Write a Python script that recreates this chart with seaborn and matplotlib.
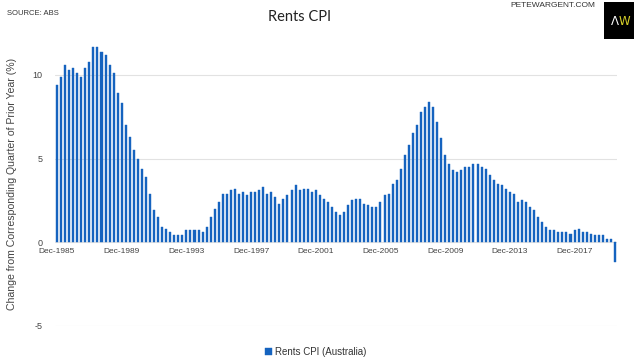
import matplotlib
matplotlib.use("Agg")
import matplotlib.pyplot as plt
import seaborn as sns
import pandas as pd

# Annual % change in Rents CPI (Australia), quarterly from Dec-1985
values = [
    9.4, 9.9, 10.6, 10.3, 10.4, 10.1, 9.9, 10.4, 10.8, 11.7,
    11.7, 11.4, 11.2, 10.6, 10.1, 8.9, 8.3, 7.0, 6.3, 5.5,
    5.0, 4.4, 3.9, 2.9, 1.9, 1.5, 0.9, 0.8, 0.6, 0.4,
    0.4, 0.4, 0.7, 0.7, 0.7, 0.7, 0.6, 0.9, 1.5, 2.0,
    2.4, 2.9, 2.9, 3.1, 3.2, 2.9, 3.0, 2.8, 3.0, 3.0,
    3.1, 3.3, 2.9, 3.0, 2.7, 2.3, 2.6, 2.8, 3.1, 3.4,
    3.1, 3.2, 3.2, 3.0, 3.1, 2.8, 2.6, 2.4, 2.1, 1.8,
    1.6, 1.8, 2.2, 2.5, 2.6, 2.6, 2.3, 2.2, 2.1, 2.1,
    2.4, 2.8, 2.9, 3.5, 3.7, 4.4, 5.2, 5.8, 6.5, 7.0,
    7.8, 8.1, 8.4, 8.1, 7.2, 6.2, 5.2, 4.7, 4.3, 4.2,
    4.3, 4.5, 4.5, 4.7, 4.7, 4.5, 4.4, 4.0, 3.7, 3.5,
    3.4, 3.2, 3.0, 2.9, 2.4, 2.5, 2.4, 2.1, 1.9, 1.5,
    1.2, 0.9, 0.7, 0.7, 0.6, 0.6, 0.6, 0.5, 0.7, 0.8,
    0.6, 0.6, 0.5, 0.4, 0.4, 0.4, 0.2, 0.2, -1.2,
]

month_names = ["Mar", "Jun", "Sep", "Dec"]
start_year = 1985
quarters = []
for i in range(len(values)):
    q = 3 + i  # index into quarter sequence starting at Dec
    quarters.append(f"{month_names[q % 4]}-{start_year + q // 4}")

yticks = [-5, 0, 5, 10]
series_name = "Rents CPI (Australia)"
bar_color = "#1563bf"

sns.set_theme(style="white")
plt.rcParams['font.family'] = ['Liberation Sans', 'DejaVu Sans']

W, H = 640, 361
fig = plt.figure(figsize=(6.4, 3.61), dpi=100)
ax = fig.add_axes([55 / W, (H - 325.5) / H, 562 / W, 283.9 / H])

df = pd.DataFrame({"Quarter": quarters, series_name: values})
sns.barplot(data=df, x="Quarter", y=series_name, color=bar_color,
            saturation=1, width=0.5, ax=ax, label=series_name,
            edgecolor=bar_color, linewidth=0.3)

ax.set_xlim(-0.5, len(values) - 0.5)
ax.set_ylim(-5, 12)
ax.set_yticks(yticks)
ax.set_yticklabels([str(t) for t in yticks])
ax.set_xticks(range(0, len(values), 16))
ax.set_xticklabels(quarters[::16])
ax.set_xlabel("")
ax.set_ylabel("")
ax.tick_params(axis='x', length=0, labelsize=6, colors="#444444", pad=4)
ax.tick_params(axis='y', length=0, labelsize=6.5, colors="#444444", pad=9)
ax.grid(axis='y', color="#e2e2e2", lw=0.8)
ax.set_axisbelow(True)
for s in ["top", "right", "left"]:
    ax.spines[s].set_visible(False)
ax.spines['bottom'].set_position(('data', 0))
ax.spines['bottom'].set_color('none')
if ax.get_legend() is not None:
    ax.get_legend().remove()

# y label
fig.text(12 / W, (H - 184) / H, "Change from Corresponding Quarter of Prior Year (%)",
         rotation=90, ha='center', va='center', fontsize=7.6, color="#444444")

# title and annotations
fig.text(300 / W, 1 - 17 / H, "Rents CPI", ha='center', va='center',
         fontsize=10.5, color="#222222", family=['Lato', 'DejaVu Sans'])
fig.text(7 / W, 1 - 13.5 / H, "SOURCE: ABS", ha='left', va='center',
         fontsize=5.5, color="#333333")
fig.text(510 / W, 1 - 5.5 / H, "PETEWARGENT.COM", ha='left', va='center',
         fontsize=6, color="#333333")

# logo box
lax = fig.add_axes([604 / W, 1 - 39 / H, 30 / W, 37 / H])
lax.set_facecolor("black")
lax.set_xticks([])
lax.set_yticks([])
for s in lax.spines.values():
    s.set_visible(False)
lax.text(0.5, 0.48, "Λ", color="white", fontsize=8.5, ha='right', va='center',
         transform=lax.transAxes, family=['DejaVu Sans'])
lax.text(0.5, 0.48, "W", color="#d8d229", fontsize=8.5, ha='left', va='center',
         transform=lax.transAxes, family=['DejaVu Sans'])

# legend
handles, labels = ax.get_legend_handles_labels()
fig.legend(handles[:1], [series_name], loc='center',
           bbox_to_anchor=(316 / W, 1 - 352 / H), frameon=False, fontsize=7,
           handlelength=0.7, handleheight=0.7, handletextpad=0.3,
           labelcolor="#333333")

fig.savefig("out.png", dpi=100)
